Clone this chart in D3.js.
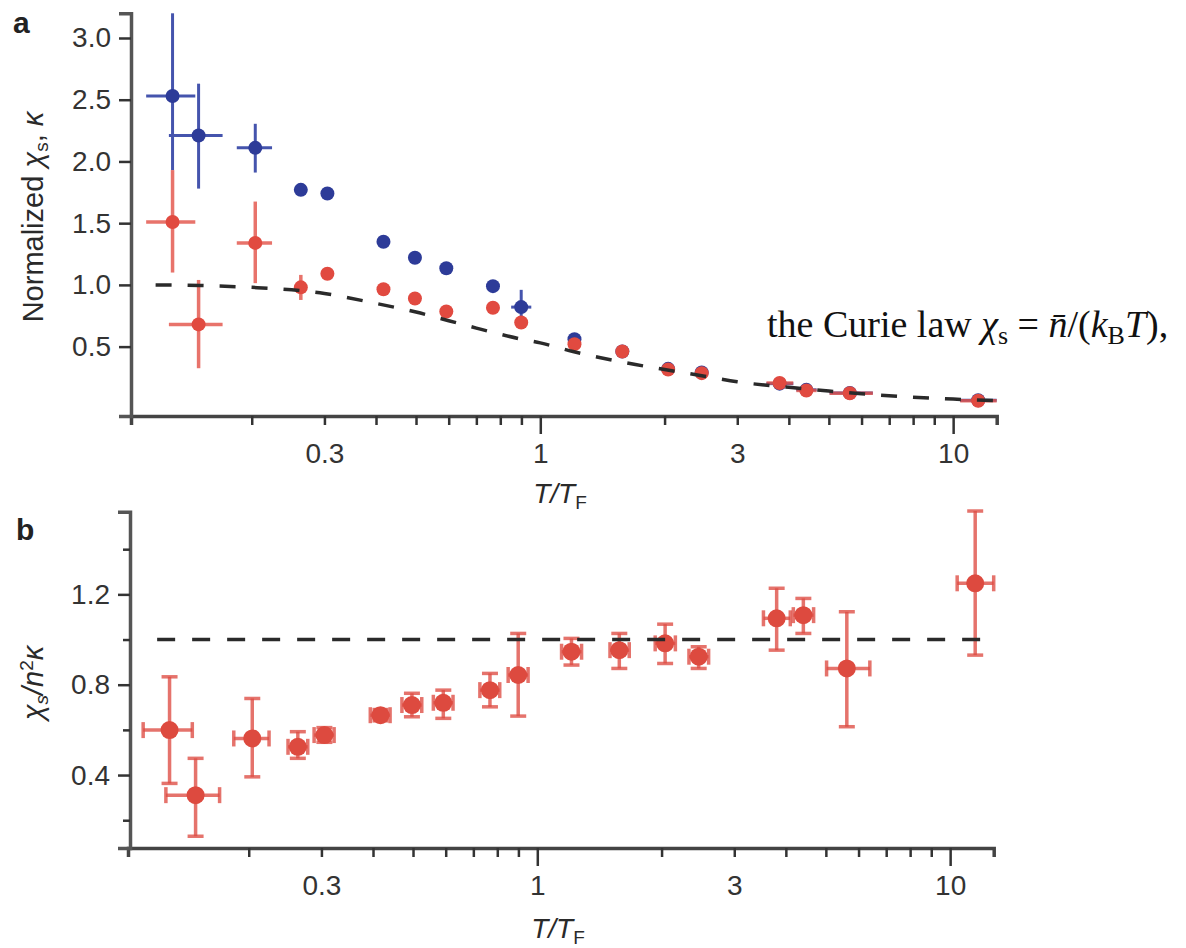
<!DOCTYPE html>
<html>
<head>
<meta charset="utf-8">
<script src="https://cdn.jsdelivr.net/npm/d3@7"></script>
<style>
  body { margin: 0; background: #fff; }
  svg { display: block; }
  text { font-family: "Liberation Sans", Arial, Helvetica, sans-serif; }
</style>
</head>
<body>
<div id="chart"></div>
<script>

// ---- panel a : normalized chi_s (blue) and kappa (red) vs T/T_F
var tempA    = [0.1286, 0.1487, 0.204, 0.263, 0.305, 0.417, 0.497, 0.592, 0.768, 0.899, 1.21, 1.58, 2.04, 2.46, 3.80, 4.41, 5.62, 11.5];

var chiV     = [2.53, 2.21, 2.11, 1.77, 1.74, 1.35, 1.22, 1.135, 0.99, 0.82, 0.56, 0.46, 0.32, 0.29, 0.20, 0.15, 0.125, 0.065];
var chiLo    = [1.93, 1.78, 1.91, null, null, null, null, null, null, 0.69, null, null, null, null, null, null, null, null];
var chiHi    = [3.20, 2.63, 2.305, null, null, null, null, null, null, 0.96, null, null, null, null, null, null, null, null];
var chiTLo   = [0.111, 0.126, 0.184, null, null, null, null, null, null, 0.85, null, null, null, null, 3.53, 4.17, 5.02, 10.4];
var chiTHi   = [0.146, 0.170, 0.224, null, null, null, null, null, null, 0.951, null, null, null, null, 4.10, 4.67, 6.39, 12.75];

var kappaV   = [1.51, 0.68, 1.34, 0.98, 1.09, 0.965, 0.89, 0.785, 0.815, 0.695, 0.52, 0.46, 0.315, 0.285, 0.205, 0.145, 0.122, 0.062];
var kappaLo  = [1.10, 0.325, 1.014, 0.878, 1.04, null, null, null, null, null, null, null, null, null, null, null, null, null];
var kappaHi  = [1.93, 1.04, 1.675, 1.081, 1.14, null, null, null, null, null, null, null, null, null, null, null, null, null];
var kappaTLo = [0.111, 0.126, 0.184, null, null, null, null, null, null, null, null, null, null, null, 3.53, 4.17, 5.02, 10.4];
var kappaTHi = [0.146, 0.170, 0.224, null, null, null, null, null, null, null, null, null, null, null, 4.10, 4.67, 6.39, 12.75];

// dashed theory curve
var curveT   = [0.117, 0.15, 0.2, 0.25, 0.3, 0.4, 0.5, 0.6, 0.7, 0.8, 0.9, 1.0, 1.2, 1.4, 1.7, 2.0, 2.5, 3.0, 4.0, 5.0, 6.0, 8.0, 10.0, 12.75];
var curveV   = [1.00, 0.995, 0.98, 0.96, 0.93, 0.85, 0.78, 0.71, 0.65, 0.60, 0.56, 0.53, 0.46, 0.41, 0.355, 0.315, 0.26, 0.215, 0.17, 0.14, 0.118, 0.09, 0.075, 0.063];

var ticksYA  = [0.5, 1.0, 1.5, 2.0, 2.5, 3.0];

// ---- panel b : chi_s / n^2 kappa
var ratioV   = [0.599, 0.311, 0.562, 0.525, 0.577, 0.665, 0.710, 0.72, 0.776, 0.843, 0.946, 0.953, 0.983, 0.924, 1.094, 1.108, 0.872, 1.249];
var ratioLo  = [0.363, 0.129, 0.392, 0.474, 0.545, 0.64, 0.658, 0.651, 0.702, 0.661, 0.887, 0.872, 0.894, 0.872, 0.953, 1.027, 0.614, 0.931];
var ratioHi  = [0.835, 0.474, 0.739, 0.592, 0.61, 0.69, 0.762, 0.776, 0.850, 1.027, 1.005, 1.027, 1.068, 0.968, 1.227, 1.182, 1.123, 1.569];
var ratioTLo = [0.111, 0.126, 0.184, 0.249, 0.288, 0.394, 0.470, 0.560, 0.726, 0.85, 1.145, 1.50, 1.93, 2.33, 3.53, 4.17, 5.02, 10.4];
var ratioTHi = [0.146, 0.170, 0.224, 0.278, 0.322, 0.440, 0.525, 0.625, 0.811, 0.95, 1.28, 1.67, 2.16, 2.60, 4.10, 4.67, 6.39, 12.75];
var refT     = [0.12, 12.2];
var refV     = [1.0, 1.0];

var ticksYB     = [0.2, 0.4, 0.6, 0.8, 1.0, 1.2, 1.4];
var labelsYB    = [0.4, 0.8, 1.2];
var ticksX      = [0.2, 0.3, 0.4, 0.5, 0.6, 0.7, 0.8, 0.9, 1, 2, 3, 4, 5, 6, 7, 8, 9, 10];
var labelsX     = [0.3, 1, 3, 10];
var majorX      = [1, 10];

var blue = "#2d3b98", red = "#e14a40";

var svg = d3.select("#chart").append("svg")
    .attr("width", 1186)
    .attr("height", 948);

svg.append("rect").attr("width", 1186).attr("height", 948).attr("fill", "#fff");

var xA = d3.scaleLog().domain([0.102, 12.75]).range([131, 996.7]);
var yA = d3.scaleLinear().domain([-0.062, 3.20]).range([416, 13.3]);
var xB = d3.scaleLog().domain([0.102, 12.75]).range([128, 993.7]);
var yB = d3.scaleLinear().domain([0.077, 1.566]).range([848, 511.7]);

function rows(t, v, lo, hi, tlo, thi) {
  return t.map(function(d, i) {
    return {t: d, v: v[i], lo: lo[i], hi: hi[i], tlo: tlo[i], thi: thi[i]};
  });
}

function xAxis(g, x, y0) {
  var ax = d3.axisBottom(x)
      .tickValues(ticksX)
      .tickSizeOuter(0)
      .tickSize(9)
      .tickFormat(function(d) { return labelsX.indexOf(d) >= 0 ? String(d) : ""; });
  var a = g.append("g")
      .attr("transform", "translate(0," + y0 + ")")
      .call(ax);
  a.select(".domain").attr("stroke", "#444").attr("stroke-width", 3.5);
  a.selectAll(".tick line")
      .attr("stroke", "#333").attr("stroke-width", 2.5)
      .attr("y2", function(d) { return majorX.indexOf(d) >= 0 ? 18 : 9; });
  a.selectAll(".tick text")
      .attr("y", 27)
      .attr("fill", "#333")
      .style("font-size", "28px")
      .style("font-family", "'Liberation Sans', Arial, sans-serif");
  return a;
}

function yAxis(g, y, x0, ticks, labels, fmt) {
  var ax = d3.axisLeft(y)
      .tickValues(ticks)
      .tickSizeOuter(0)
      .tickSize(12)
      .tickPadding(8)
      .tickFormat(function(d) { return labels.indexOf(d) >= 0 ? d3.format(fmt)(d) : ""; });
  var a = g.append("g")
      .attr("transform", "translate(" + x0 + ",0)")
      .call(ax);
  a.select(".domain").attr("stroke", "#555").attr("stroke-width", 3.5);
  a.selectAll(".tick line")
      .attr("stroke", "#333").attr("stroke-width", 2.5)
      .attr("x2", function(d) { return labels.indexOf(d) >= 0 ? -12 : -7; });
  a.selectAll(".tick text")
      .attr("fill", "#333")
      .style("font-size", "28px")
      .style("font-family", "'Liberation Sans', Arial, sans-serif");
  return a;
}

function drawPoints(g, data, x, y, o) {
  var p = g.append("g").selectAll("g")
      .data(data)
      .enter().append("g");

  p.filter(function(d) { return d.lo != null; }).append("line")
      .attr("x1", function(d) { return x(d.t); })
      .attr("x2", function(d) { return x(d.t); })
      .attr("y1", function(d) { return y(d.lo); })
      .attr("y2", function(d) { return y(d.hi); })
      .attr("stroke", o.bar).attr("stroke-width", o.w);

  p.filter(function(d) { return d.tlo != null; }).append("line")
      .attr("x1", function(d) { return x(d.tlo); })
      .attr("x2", function(d) { return x(d.thi); })
      .attr("y1", function(d) { return y(d.v); })
      .attr("y2", function(d) { return y(d.v); })
      .attr("stroke", o.bar).attr("stroke-width", o.w);

  if (o.cap) {
    ["lo", "hi"].forEach(function(k) {
      p.filter(function(d) { return d[k] != null; }).append("line")
          .attr("x1", function(d) { return x(d.t) - o.cap; })
          .attr("x2", function(d) { return x(d.t) + o.cap; })
          .attr("y1", function(d) { return y(d[k]); })
          .attr("y2", function(d) { return y(d[k]); })
          .attr("stroke", o.bar).attr("stroke-width", o.w);
    });
    ["tlo", "thi"].forEach(function(k) {
      p.filter(function(d) { return d[k] != null; }).append("line")
          .attr("x1", function(d) { return x(d[k]); })
          .attr("x2", function(d) { return x(d[k]); })
          .attr("y1", function(d) { return y(d.v) - o.cap; })
          .attr("y2", function(d) { return y(d.v) + o.cap; })
          .attr("stroke", o.bar).attr("stroke-width", o.w);
    });
  }

  p.append("circle")
      .attr("cx", function(d) { return x(d.t); })
      .attr("cy", function(d) { return y(d.v); })
      .attr("r", o.r)
      .attr("fill", o.fill);
}

// ===== panel a =====
var ga = svg.append("g");
xAxis(ga, xA, 416);
yAxis(ga, yA, 131, ticksYA, ticksYA, ".1f");

drawPoints(ga, rows(tempA, chiV, chiLo, chiHi, chiTLo, chiTHi), xA, yA,
    {bar: "#4554ad", w: 3, r: 7, fill: blue, cap: 0});
drawPoints(ga, rows(tempA, kappaV, kappaLo, kappaHi, kappaTLo, kappaTHi), xA, yA,
    {bar: "rgba(226,80,70,0.8)", w: 3.5, r: 7, fill: red, cap: 0});

var line = d3.line()
    .x(function(d) { return d[0]; })
    .y(function(d) { return d[1]; })
    .curve(d3.curveMonotoneX);

ga.append("path")
    .attr("d", line(curveT.map(function(t, i) { return [xA(t), yA(curveV[i])]; })))
    .attr("fill", "none")
    .attr("stroke", "#2a2a2a")
    .attr("stroke-width", 3.5)
    .attr("stroke-dasharray", "16,16");

ga.append("text")
    .attr("x", 13).attr("y", 33)
    .style("font-size", "30px").style("font-weight", "bold")
    .attr("fill", "#222")
    .text("a");

var ta = ga.append("text")
    .attr("transform", "translate(43,217) rotate(-90)")
    .attr("text-anchor", "middle")
    .attr("fill", "#2a2a2a")
    .style("font-size", "29px");
ta.append("tspan").text("Normalized ");
ta.append("tspan").style("font-style", "italic").text("χ");
ta.append("tspan").attr("baseline-shift", "-25%").style("font-size", "19px").text("s");
ta.append("tspan").text(", ");
ta.append("tspan").style("font-style", "italic").text("κ");

function tOverTF(g, cx, by) {
  var t = g.append("text")
      .attr("x", cx).attr("y", by)
      .attr("text-anchor", "middle")
      .attr("fill", "#2a2a2a")
      .style("font-size", "28px")
      .style("font-style", "italic");
  t.append("tspan").text("T/T");
  t.append("tspan").attr("baseline-shift", "-30%").style("font-size", "19px").style("font-style", "normal").text("F");
}
tOverTF(ga, 560, 503);

// Curie law annotation
var cl = svg.append("text")
    .attr("x", 767).attr("y", 337)
    .attr("fill", "#111")
    .style("font-family", "'Liberation Serif', 'Times New Roman', serif")
    .style("font-size", "38px");
cl.append("tspan").text("the Curie law ");
cl.append("tspan").style("font-style", "italic").text("χ");
cl.append("tspan").attr("baseline-shift", "-25%").style("font-size", "26px").text("s");
cl.append("tspan").text(" = ");
cl.append("tspan").style("font-style", "italic").text("n\u0304");
cl.append("tspan").text("/(");
cl.append("tspan").style("font-style", "italic").text("k");
cl.append("tspan").attr("baseline-shift", "-25%").style("font-size", "26px").text("B");
cl.append("tspan").style("font-style", "italic").text("T");
cl.append("tspan").text("),");

// ===== panel b =====
var gb = svg.append("g");
xAxis(gb, xB, 848);
yAxis(gb, yB, 130, ticksYB, labelsYB, ".1f");

drawPoints(gb, rows(tempA, ratioV, ratioLo, ratioHi, ratioTLo, ratioTHi), xB, yB,
    {bar: "rgba(222,76,66,0.78)", w: 3.5, r: 9, fill: "#dd4a3f", cap: 8});

gb.append("path")
    .attr("d", line(refT.map(function(t, i) { return [xB(t), yB(refV[i])]; })))
    .attr("fill", "none")
    .attr("stroke", "#2a2a2a")
    .attr("stroke-width", 3.5)
    .attr("stroke-dasharray", "18,17");

gb.append("text")
    .attr("x", 16).attr("y", 540)
    .style("font-size", "30px").style("font-weight", "bold")
    .attr("fill", "#222")
    .text("b");

var tb = gb.append("text")
    .attr("transform", "translate(43,683) rotate(-90)")
    .attr("text-anchor", "middle")
    .attr("fill", "#2a2a2a")
    .style("font-size", "29px")
    .style("font-style", "italic");
tb.append("tspan").text("χ");
tb.append("tspan").attr("baseline-shift", "-25%").style("font-size", "19px").text("s");
tb.append("tspan").text("/n");
tb.append("tspan").attr("baseline-shift", "super").style("font-size", "19px").style("font-style", "normal").text("2");
tb.append("tspan").text("κ");

tOverTF(gb, 558, 938);

</script>
</body>
</html>
